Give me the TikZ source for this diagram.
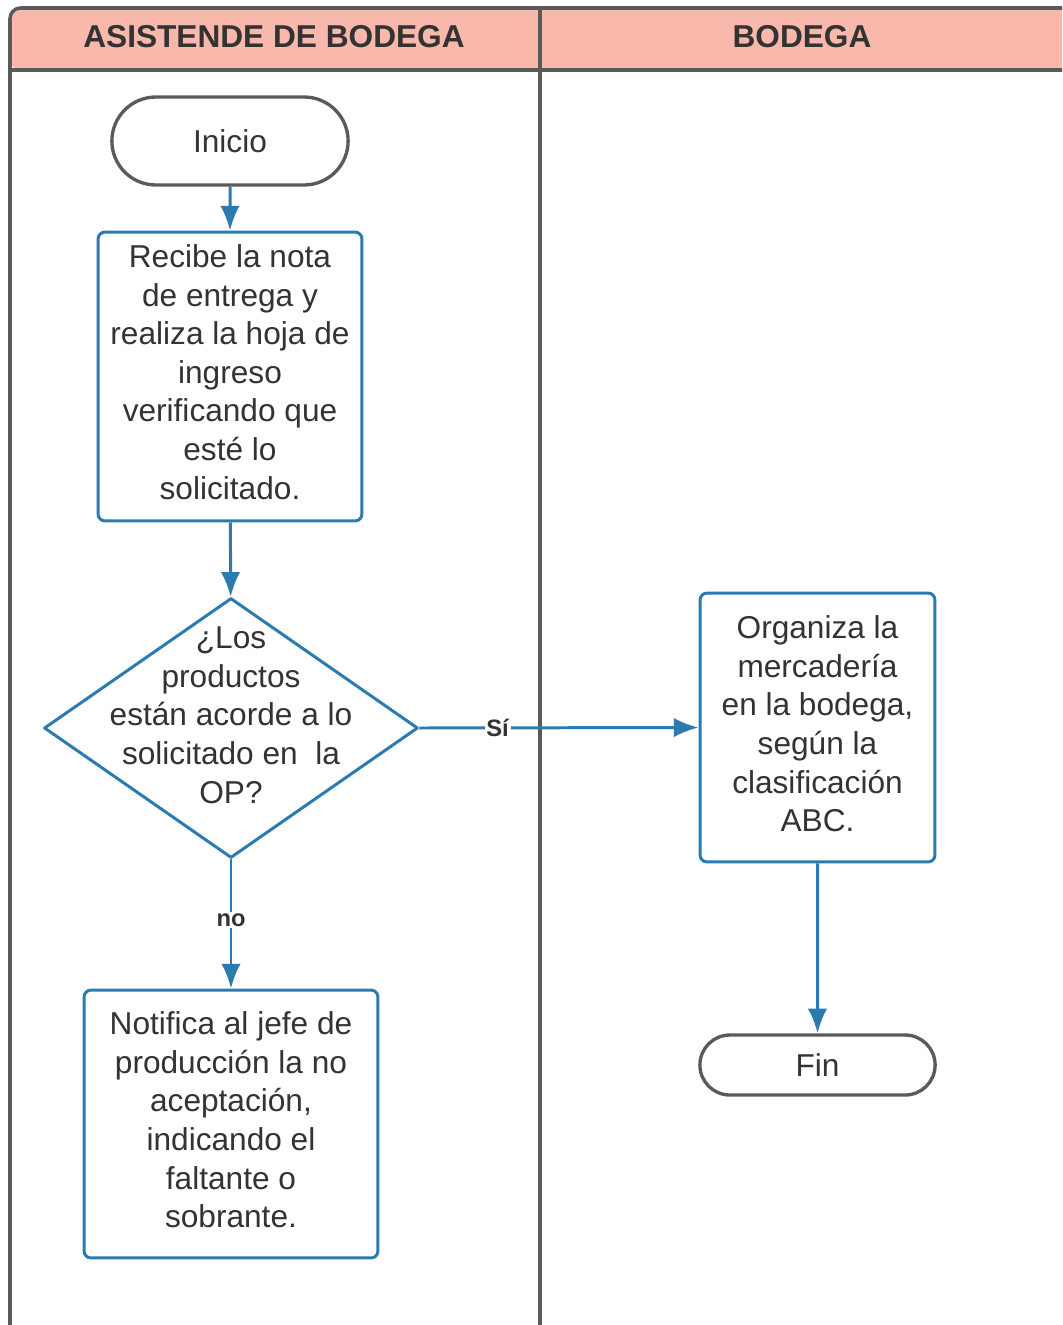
\documentclass[tikz,border=0pt]{standalone}
\usepackage{fontspec}
\setmainfont{Liberation Sans}
\usetikzlibrary{arrows.meta}
\usetikzlibrary{shapes}

\definecolor{flowblue}{HTML}{2B7BB1}
\definecolor{lanegray}{HTML}{5A5A5A}
\definecolor{headpink}{HTML}{F9B8AC}
\definecolor{txtgray}{HTML}{333333}

\begin{document}
\begin{tikzpicture}[x=0.02cm,y=-0.02cm]
  \tikzset{task/.style = {draw=flowblue, line width=1.7pt, rounded corners=4pt,
      fill=white, align=center, text=txtgray, inner sep=0pt,
      font=\fontsize{18}{22}\selectfont}}
  \tikzset{terminal/.style = {rounded rectangle, draw=lanegray, line width=1.9pt,
      fill=white, text=txtgray, font=\fontsize{18}{22}\selectfont}}
  \tikzset{decision/.style = {diamond, draw=flowblue, line width=1.7pt,
      line join=round, fill=white, inner sep=0pt,
      minimum width=7.48cm, minimum height=5.2cm}}
  \tikzset{txt/.style = {align=center, text=txtgray, font=\fontsize{18}{22}\selectfont}}
  \tikzset{line/.style = {draw=flowblue, line width=1.7pt,
      -{Latex[length=14pt,width=11pt]}}}
  \tikzset{tag/.style = {fill=white, inner sep=1pt, text=txtgray,
      font=\fontsize{13.5}{16}\selectfont\bfseries}}

  \useasboundingbox (0,0) rectangle (1062,1325);
  \clip (0,0) rectangle (1062,1325);

  %%%%%%%%%%%% lanes

  \fill[headpink, rounded corners=6pt] (10,8) -- (1080,8) -- (1080,70) -- (10,70) -- cycle;
  \draw[lanegray, line width=2pt, rounded corners=6pt] (10,1340) -- (10,8) -- (1080,8);
  \draw[lanegray, line width=2pt] (10,70) -- (1080,70);
  \draw[lanegray, line width=2pt] (540,8) -- (540,1340);

  \node[text=txtgray, font=\fontsize{18}{22}\selectfont\bfseries] (lane1) at (274,37)
  {ASISTENDE DE BODEGA};
  \node[text=txtgray, font=\fontsize{18}{22}\selectfont\bfseries] (lane2) at (802,37)
  {BODEGA};

  %%%%%%%%%%%% asistente

  \node[terminal, minimum width=4.96cm, minimum height=1.76cm] (ini) at (230,141)
  {Inicio};

  \node[task, minimum width=5.28cm, minimum height=5.78cm] (rec) at (230,376.5) {};
  \node[txt] (rectxt) at (230,372)
  {Recibe la nota\\de entrega y\\realiza la hoja de\\ingreso\\verificando que\\esté lo\\solicitado.};

  \node[decision] (dec) at (231,728) {};
  \node[txt] (dectxt) at (231,715)
  {¿Los\\productos\\están acorde a lo\\solicitado en \ la\\OP?};

  \node[task, minimum width=5.88cm, minimum height=5.36cm] (notif) at (231,1124) {};
  \node[txt] (notiftxt) at (231,1120)
  {Notifica al jefe de\\producción la no\\aceptación,\\indicando el\\faltante o\\sobrante.};

  %%%%%%%%%%%% bodega

  \node[task, minimum width=4.7cm, minimum height=5.38cm] (org) at (817.5,727.5) {};
  \node[txt] (orgtxt) at (817.5,724)
  {Organiza la\\mercadería\\en la bodega,\\según la\\clasificación\\ABC.};

  \node[terminal, minimum width=4.94cm, minimum height=1.2cm] (fin) at (817.5,1065)
  {Fin};

  %%%%%%%%%%%% flujo

  \path[line] (ini) -- (rec);
  \path[line] (rec) -- (dec);
  \path[line] (dec.east) -- node[tag, pos=0.28] {Sí} (org.west);
  \path[line] (dec.south) -- node[tag, pos=0.47] {no} (notif.north);
  \path[line] (org) -- (fin);

\end{tikzpicture}
\end{document}
